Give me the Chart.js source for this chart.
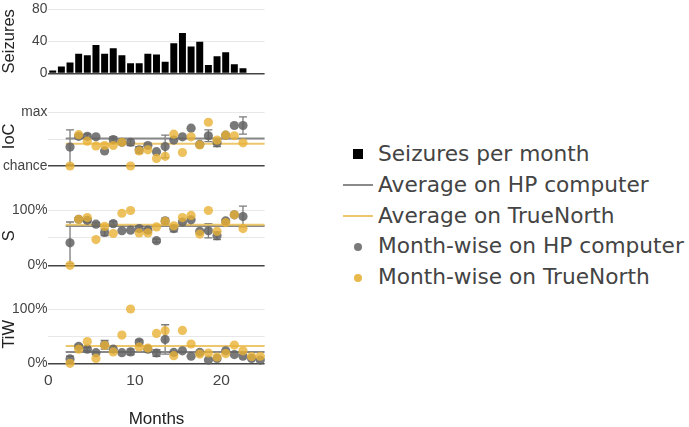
<!DOCTYPE html>
<html>
<head>
<meta charset="utf-8">
<script src="https://cdn.jsdelivr.net/npm/chart.js@4.4.1/dist/chart.umd.min.js"></script>
<style>
  body { margin: 0; background: #fff; width: 689px; height: 427px; position: relative; overflow: hidden; }
  canvas { position: absolute; left: 0; }
  #legend { position: absolute; left: 343px; top: 139px; font-family: 'DejaVu Sans', sans-serif; font-size: 21.7px; color: #444; }
  .item { height: 30.8px; line-height: 30.8px; display: flex; align-items: center; white-space: nowrap; }
  .mark { width: 30px; height: 30.8px; margin-right: 5px; display: flex; align-items: center; justify-content: center; }
  .sq { width: 10px; height: 10px; background: #000; }
  .ln { width: 30px; height: 2px; }
  .dot { width: 8px; height: 8px; border-radius: 50%; }
</style>
</head>
<body>
<canvas id="seizures" width="300" height="90" style="top:0px"></canvas>
<canvas id="ioc" width="300" height="96" style="top:92px"></canvas>
<canvas id="sens" width="300" height="95" style="top:190px"></canvas>
<canvas id="tiw" width="300" height="140" style="top:290px"></canvas>
<div id="legend">
  <div class="item"><span class="mark"><span class="sq"></span></span>Seizures per month</div>
  <div class="item"><span class="mark"><span class="ln" style="background:#8a8a8a"></span></span>Average on HP computer</div>
  <div class="item"><span class="mark"><span class="ln" style="background:#ecc66c"></span></span>Average on TrueNorth</div>
  <div class="item"><span class="mark"><span class="dot" style="background:#7a7a7a"></span></span>Month-wise on HP computer</div>
  <div class="item"><span class="mark"><span class="dot" style="background:#e8b84a"></span></span>Month-wise on TrueNorth</div>
</div>
<script>
// months (x) and seizure counts
const seizureMonths = [0.5, 1.5, 2.5, 3.5, 4.5, 5.5, 6.5, 7.5, 8.5, 9.5, 10.5, 11.5, 12.5, 13.5, 14.5, 15.5, 16.5, 17.5, 18.5, 19.5, 20.5, 21.5, 22.5];
const seizureCounts = [3, 8, 13, 24, 22, 35, 24, 31, 22, 12, 12, 24, 23, 14, 37, 50, 33, 39, 10, 21, 26, 11, 6];

const evalMonths = [2.5, 3.5, 4.5, 5.5, 6.5, 7.5, 8.5, 9.5, 10.5, 11.5, 12.5, 13.5, 14.5, 15.5, 16.5, 17.5, 18.5, 19.5, 20.5, 21.5, 22.5];
const tiwMonths = [2.5, 3.5, 4.5, 5.5, 6.5, 7.5, 8.5, 9.5, 10.5, 11.5, 12.5, 13.5, 14.5, 15.5, 16.5, 17.5, 18.5, 19.5, 20.5, 21.5, 22.5, 23.5, 24.5];

// IoC (0 = chance, 1 = max)
const iocHp = [0.35, 0.55, 0.55, 0.54, 0.28, 0.49, 0.44, 0.44, 0.30, 0.38, 0.265, 0.36, 0.48, 0.54, 0.70, 0.40, 0.56, 0.43, 0.57, 0.75, 0.75];
const iocHpErr = [0.32, 0.03, 0.04, 0, 0, 0.05, 0, 0.06, 0.06, 0, 0, 0.21, 0, 0, 0, 0, 0.11, 0.07, 0, 0, 0.16];
const iocTn = [0.0, 0.58, 0.46, 0.37, 0.38, 0.38, 0.44, 0.0, 0.28, 0.30, 0.14, 0.18, 0.59, 0.25, 0.54, 0.39, 0.81, 0.48, 0.57, 0.56, 0.43];

// Sensitivity (%)
const sHp = [41, 84, 82, 75, 60, 76, 63, 64, 67, 64, 45, 81, 67, 79, 83, 62, 63, 54, 81, 92, 89];
const sHpErr = [38, 3, 3, 3, 6, 4, 0, 0, 5, 4, 3, 5, 6, 0, 0, 0, 13, 7, 3, 0, 19];
const sTn = [0, 84, 87, 47, 71, 58, 95, 100, 59, 59, 70, 80, 72, 87, 91, 57, 100, 62, 78, 92, 67];

// Time in warning (%)
const tiwHp = [8, 31, 26, 19.5, 34, 26, 19.5, 21, 39, 26, 19, 44, 20, 23, 13, 20, 6, 9, 23, 16, 13, 9, 6];
const tiwHpErr = [5, 3, 3, 0, 8, 6, 0, 5, 4, 0, 6, 27, 0, 0, 0, 0, 0, 0, 0, 0, 0, 0, 0];
const tiwTn = [0, 26, 40, 9, 33, 21, 52, 100, 30, 28, 55, 60, 14, 60.5, 35.5, 17, 19, 11.5, 18, 33.5, 23, 12.5, 13];

// averages: [IoC, S, TiW]
const avgHp = [0.51, 71.5, 21];
const avgTn = [0.41, 74, 32];
const avgSpan = [2, 25];

const xMax = 25;
const xTicks = [0, 10, 20];

const hpColor = 'rgba(98, 98, 98, 0.85)';
const tnColor = 'rgba(232, 178, 52, 0.8)';

Chart.defaults.font.family = "'Liberation Sans', Arial, sans-serif";
Chart.defaults.color = '#444';

const errorBarPlugin = {
  id: 'errorBars',
  beforeDatasetsDraw(chart) {
    const ctx = chart.ctx;
    const yAxis = chart.scales.y;
    chart.data.datasets.forEach((ds, i) => {
      if (!ds.errors) return;
      const meta = chart.getDatasetMeta(i);
      ctx.save();
      ctx.strokeStyle = 'rgba(110, 110, 110, 0.9)';
      ctx.lineWidth = 1.3;
      meta.data.forEach((pt, j) => {
        const err = ds.errors[j];
        if (!err) return;
        const v = ds.data[j].y;
        const top = yAxis.getPixelForValue(v + err);
        const bottom = yAxis.getPixelForValue(v - err);
        ctx.beginPath();
        ctx.moveTo(pt.x, top);
        ctx.lineTo(pt.x, bottom);
        ctx.moveTo(pt.x - 4, top);
        ctx.lineTo(pt.x + 4, top);
        ctx.moveTo(pt.x - 4, bottom);
        ctx.lineTo(pt.x + 4, bottom);
        ctx.stroke();
      });
      ctx.restore();
    });
  }
};

const toPoints = (xs, ys) => xs.map((x, i) => ({ x: x, y: ys[i] }));

function makeOptions(cfg) {
  return {
    responsive: false,
    animation: false,
    events: [],
    layout: { padding: { top: cfg.padTop, bottom: cfg.padBottom, left: 0, right: 35.4 } },
    plugins: { legend: { display: false }, tooltip: { enabled: false } },
    scales: {
      x: {
        type: 'linear',
        offset: false,
        min: 0,
        max: xMax,
        display: cfg.showX,
        grid: { display: false, offset: false },
        border: { display: false },
        afterBuildTicks: s => { s.ticks = xTicks.map(v => ({ value: v })); },
        afterFit: s => { if (cfg.showX) s.height = cfg.xHeight; },
        ticks: { padding: 0, font: { size: 15.5 }, color: '#444', maxRotation: 0 },
        title: { display: cfg.showX, text: 'Months', font: { size: 17 }, color: '#222', padding: 0 }
      },
      y: {
        min: 0,
        max: cfg.yMax,
        afterBuildTicks: s => { s.ticks = cfg.tickValues.map(v => ({ value: v })); },
        afterFit: s => { s.width = 48.4; },
        grid: {
          drawTicks: false,
          color: c => (c.tick && c.tick.value === 0) ? '#444' : '#e8e8e8',
          lineWidth: c => (c.tick && c.tick.value === 0) ? 1.6 : 1
        },
        border: { display: false },
        ticks: {
          padding: 1,
          font: { size: 13.8 },
          color: '#444',
          callback: (v, i) => cfg.tickLabels[i]
        },
        title: { display: true, text: cfg.title, font: { size: 16.5 }, color: '#222', padding: 0 }
      }
    }
  };
}

function scoreDatasets(k, months, hp, hpErr, tn) {
  return [
    { type: 'scatter', data: toPoints(months, tn), backgroundColor: tnColor, borderWidth: 0, pointRadius: 4.6, clip: false, order: 1 },
    { type: 'scatter', data: toPoints(months, hp), errors: hpErr, backgroundColor: hpColor, borderWidth: 0, pointRadius: 4.6, clip: false, order: 2 },
    { type: 'line', data: avgSpan.map(x => ({ x: x, y: avgTn[k] })), borderColor: 'rgba(236, 196, 100, 0.95)', borderWidth: 2, pointRadius: 0, clip: false, order: 3 },
    { type: 'line', data: avgSpan.map(x => ({ x: x, y: avgHp[k] })), borderColor: '#888', borderWidth: 2, pointRadius: 0, clip: false, order: 4 }
  ];
}

new Chart(document.getElementById('seizures'), {
  type: 'bar',
  data: {
    datasets: [{
      data: toPoints(seizureMonths, seizureCounts),
      backgroundColor: '#000',
      barThickness: 6.3
    }]
  },
  options: makeOptions({ padTop: 7.3, padBottom: 16.7, showX: false, yMax: 80, tickValues: [0, 40, 80], tickLabels: ['0', '40', '80'], title: 'Seizures' })
});

new Chart(document.getElementById('ioc'), {
  type: 'scatter',
  data: { datasets: scoreDatasets(0, evalMonths, iocHp, iocHpErr, iocTn) },
  options: makeOptions({ padTop: 14.6, padBottom: 22, showX: false, yMax: 1.1, tickValues: [0, 0.5, 1], tickLabels: ['chance', '', 'max'], title: 'IoC' }),
  plugins: [errorBarPlugin]
});

new Chart(document.getElementById('sens'), {
  type: 'scatter',
  data: { datasets: scoreDatasets(1, evalMonths, sHp, sHpErr, sTn) },
  options: makeOptions({ padTop: 16.1, padBottom: 19.7, showX: false, yMax: 108, tickValues: [0, 50, 100], tickLabels: ['0%', '', '100%'], title: 'S' }),
  plugins: [errorBarPlugin]
});

new Chart(document.getElementById('tiw'), {
  type: 'scatter',
  data: { datasets: scoreDatasets(2, tiwMonths, tiwHp, tiwHpErr, tiwTn) },
  options: makeOptions({ padTop: 15.2, padBottom: 0, showX: true, xHeight: 66.7, yMax: 107, tickValues: [0, 50, 100], tickLabels: ['0%', '', '100%'], title: 'TiW' }),
  plugins: [errorBarPlugin]
});
</script>
</body>
</html>
